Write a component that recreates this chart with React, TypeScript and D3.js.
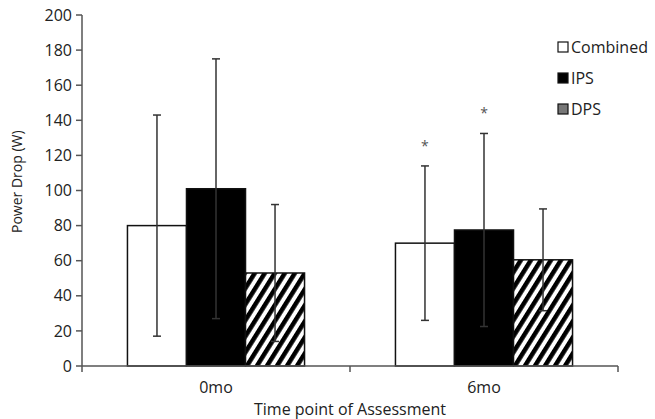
import React from "react";
import * as d3 from "d3";

const timepoints = ["0mo", "6mo"];
const groups = ["Combined", "IPS", "DPS"];
const means = [
  [80, 101, 53],
  [70, 77.5, 60.5],
];
const sds = [
  [63, 74, 39],
  [44, 55, 29],
];
const starred = [
  [false, false, false],
  [true, true, false],
];
const yTicks = [0, 20, 40, 60, 80, 100, 120, 140, 160, 180, 200];

const W = 655;
const H = 419;
const margin = { left: 82, right: 37, top: 15, bottom: 53 };
const font = "'Open Sans', 'DejaVu Sans', sans-serif";
const ink = "#222";

export default function App() {
  const x0 = d3
    .scaleBand()
    .domain(timepoints)
    .range([margin.left, W - margin.right]);
  const x1 = d3
    .scaleBand()
    .domain(groups)
    .range([0, x0.bandwidth()])
    .paddingInner(0)
    .paddingOuter(0.77);
  const y = d3
    .scaleLinear()
    .domain([0, 200])
    .range([H - margin.bottom, margin.top]);

  const fills: Record<string, string> = {
    Combined: "#fff",
    IPS: "#000",
    DPS: "url(#hatch)",
  };

  return (
    <div style={{ position: "absolute", left: 0, top: 0 }}>
      <svg width={W} height={H} style={{ display: "block", background: "#fff" }}>
        <defs>
          <pattern
            id="hatch"
            patternUnits="userSpaceOnUse"
            width={8.5}
            height={10}
            patternTransform="rotate(32)"
          >
            <rect width={8.5} height={10} fill="#fff" />
            <rect width={4.5} height={10} fill="#000" />
          </pattern>
        </defs>

        {/* y axis */}
        <line
          x1={margin.left}
          x2={margin.left}
          y1={y(200)}
          y2={y(0)}
          stroke="#555"
          strokeWidth={1.5}
        />
        {yTicks.map((t) => (
          <g key={t}>
            <line
              x1={margin.left - 6}
              x2={margin.left}
              y1={y(t)}
              y2={y(t)}
              stroke="#555"
              strokeWidth={1.5}
            />
            <text
              x={margin.left - 10}
              y={y(t)}
              dy="0.35em"
              textAnchor="end"
              fontFamily={font}
              fontSize={16}
              fill={ink}
            >
              {t}
            </text>
          </g>
        ))}
        <text
          transform={`translate(22, ${y(105)}) rotate(-90)`}
          textAnchor="middle"
          fontFamily={font}
          fontSize={14}
          fill={ink}
        >
          Power Drop (W)
        </text>

        {/* bars */}
        {timepoints.map((tp, i) => (
          <g key={tp} transform={`translate(${x0(tp)},0)`}>
            {groups.map((g, j) => {
              const bx = x1(g)!;
              const bw = x1.bandwidth();
              const cx = bx + bw / 2;
              const m = means[i][j];
              const s = sds[i][j];
              return (
                <g key={g}>
                  <rect
                    x={bx}
                    y={y(m)}
                    width={bw}
                    height={y(0) - y(m)}
                    fill={fills[g]}
                    stroke="#111"
                    strokeWidth={1.5}
                  />
                  <line x1={cx} x2={cx} y1={y(m + s)} y2={y(m - s)} stroke="#333" strokeWidth={1.5} />
                  <line x1={cx - 4} x2={cx + 4} y1={y(m + s)} y2={y(m + s)} stroke="#333" strokeWidth={1.5} />
                  <line x1={cx - 4} x2={cx + 4} y1={y(m - s)} y2={y(m - s)} stroke="#333" strokeWidth={1.5} />
                  {starred[i][j] && (
                    <text
                      x={cx}
                      y={y(m + s) - 15}
                      textAnchor="middle"
                      fontFamily={font}
                      fontSize={14}
                      fill="#555"
                    >
                      *
                    </text>
                  )}
                </g>
              );
            })}
          </g>
        ))}

        {/* x axis */}
        <line
          x1={margin.left}
          x2={W - margin.right}
          y1={y(0)}
          y2={y(0)}
          stroke="#555"
          strokeWidth={1.5}
        />
        {[...timepoints.map((tp) => x0(tp)!), W - margin.right].map((tx, k) => (
          <line key={k} x1={tx} x2={tx} y1={y(0)} y2={y(0) + 6} stroke="#555" strokeWidth={1.5} />
        ))}
        {timepoints.map((tp) => (
          <text
            key={tp}
            x={x0(tp)! + x0.bandwidth() / 2}
            y={y(0) + 27}
            textAnchor="middle"
            fontFamily={font}
            fontSize={16}
            fill={ink}
          >
            {tp}
          </text>
        ))}
        <text
          x={(margin.left + W - margin.right) / 2}
          y={H - 4}
          textAnchor="middle"
          fontFamily={font}
          fontSize={16}
          fill={ink}
        >
          Time point of Assessment
        </text>

        {/* legend */}
        {groups.map((g, j) => (
          <g key={g} transform={`translate(558, ${47 + j * 31})`}>
            <rect
              x={0}
              y={-5}
              width={10}
              height={10}
              fill={g === "DPS" ? "#777" : fills[g]}
              stroke="#111"
              strokeWidth={1.2}
            />
            <text x={13} y={0} dy="0.35em" fontFamily={font} fontSize={16} fill={ink}>
              {g}
            </text>
          </g>
        ))}
      </svg>
    </div>
  );
}
